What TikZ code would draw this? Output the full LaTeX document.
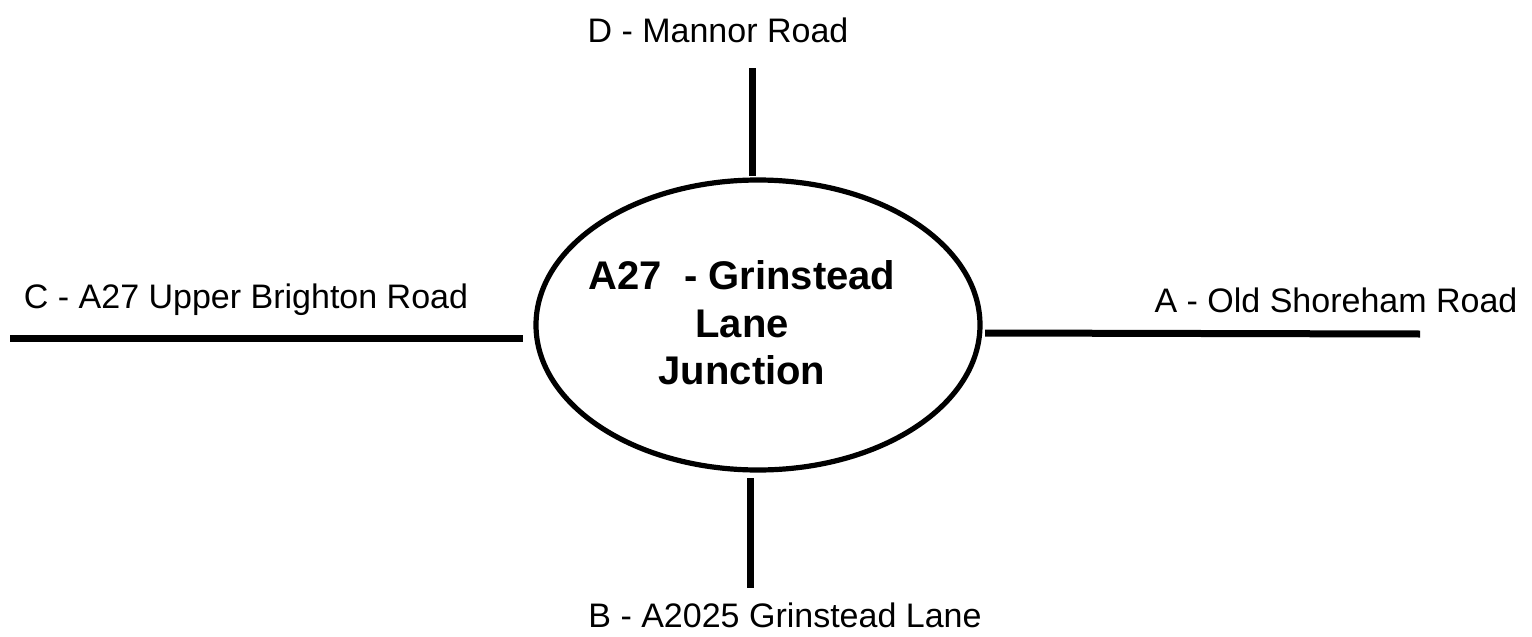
\documentclass[tikz,border=0pt]{standalone}
\usepackage{fontspec}
\setmainfont{Liberation Sans}
\usetikzlibrary{shapes.geometric}
\begin{document}
\begin{tikzpicture}[x=0.5pt,y=-0.5pt,
  road/.style={line width=3.5pt},
  roadlabel/.style={font=\fontsize{17pt}{20pt}\selectfont, inner sep=0pt},
  junction/.style={ellipse, draw, line width=2.6pt, minimum width=222pt, minimum height=145pt, inner sep=0pt},
  centertext/.style={font=\fontsize{20pt}{23.75pt}\selectfont\bfseries, align=center}]
\useasboundingbox (0,0) rectangle (1532,637);
\node[junction] (j) at (758,325) {};
\node[centertext] (jt) at (742,323) {A27 \ - Grinstead\\Lane\\Junction};
\coordinate (d1) at (752,68);  \coordinate (d2) at (752,176);
\coordinate (b1) at (750,478); \coordinate (b2) at (750,588);
\coordinate (c1) at (10,338);  \coordinate (c2) at (523,338);
\coordinate (a1) at (985,333); \coordinate (a2) at (1420,334);
\draw[road] (d1) -- (d2);
\draw[road] (b1) -- (b2);
\draw[road] (c1) -- (c2);
\draw[road] (a1) -- (a2);
\node[roadlabel] (dl) at (718,30) {D - Mannor Road};
\node[roadlabel] (bl) at (785,615) {B - A2025 Grinstead Lane};
\node[roadlabel] (cl) at (246,300) {C - A27 Upper Brighton Road};
\node[roadlabel] (al) at (1336,300) {A - Old Shoreham Road};
\end{tikzpicture}
\end{document}
